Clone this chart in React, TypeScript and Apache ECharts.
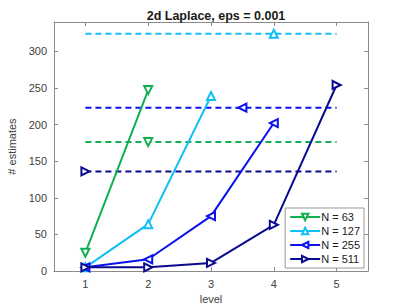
import React, { useEffect, useRef } from "react";
import * as echarts from "echarts";

const levels = [1, 2, 3, 4, 5];
const yTicks = [0, 50, 100, 150, 200, 250, 300];
const names = ["N = 63", "N = 127", "N = 255", "N = 511"];
const colors = ["#10B050", "#10BFF5", "#0A10F0", "#0A0A90"];
const rotations = [180, 0, 90, -90];
const estimates63 = [25, 247];
const estimates127 = [5, 64, 239];
const estimates255 = [5, 16, 75, 202];
const estimates511 = [5, 5, 11, 63, 254];
const refValues = [176, 324, 223, 136];
const refMarkerLevel = [2, 4, 3.5, 1];

const FONT = "Liberation Sans";

export default function App() {
  const ref = useRef<HTMLDivElement>(null);
  useEffect(() => {
    if (!ref.current) return;
    const chart = echarts.init(ref.current, null, { renderer: "svg" });
    const all = [estimates63, estimates127, estimates255, estimates511];
    const series: any[] = [];
    all.forEach((vals, i) => {
      const y = refValues[i];
      const m = refMarkerLevel[i];
      const pts = [1, m, 5].filter((v, k, a) => a.indexOf(v) === k).sort((a, b) => a - b);
      series.push({
        name: names[i] + " ref",
        type: "line",
        symbol: "emptyTriangle",
        symbolSize: 8,
        symbolRotate: rotations[i],
        data: pts.map((x) => ({
          value: [x, y],
          symbol: x === m ? "emptyTriangle" : "none",
        })),
        lineStyle: { color: colors[i], width: 2, type: [6, 4] },
        itemStyle: { color: colors[i], borderColor: colors[i], borderWidth: 1.5 },
        z: 2,
      });
    });
    all.forEach((vals, i) => {
      series.push({
        name: names[i],
        type: "line",
        symbol: "emptyTriangle",
        symbolSize: 8,
        symbolRotate: rotations[i],
        showAllSymbol: true,
        data: vals.map((v, k) => [levels[k], v]),
        lineStyle: { color: colors[i], width: 2 },
        itemStyle: { color: colors[i], borderColor: colors[i], borderWidth: 1.5 },
        z: 3,
      });
    });
    const axisCommon = {
      axisLine: { show: true, onZero: false, lineStyle: { color: "#8a8a8a", width: 1 } },
      axisTick: { show: true, inside: true, length: 4, lineStyle: { color: "#8a8a8a" } },
      splitLine: { show: false },
    };
    chart.setOption({
      animation: false,
      backgroundColor: "#ffffff",
      title: {
        text: "2d Laplace, eps = 0.001",
        left: 211,
        textAlign: "center",
        top: 4,
        textStyle: { fontFamily: FONT, fontSize: 12.5, fontWeight: "bold", color: "#1a1a1a" },
      },
      grid: { left: 54, right: 39, top: 22, bottom: 34, outerBoundsMode: "none", containLabel: false },
      legend: {
        data: names,
        orient: "vertical",
        right: 43,
        bottom: 37,
        itemWidth: 30,
        itemHeight: 8,
        itemGap: 2,
        padding: [3, 4, 3, 4],
        backgroundColor: "#fff",
        borderColor: "#999",
        borderWidth: 1,
        borderRadius: 0,
        textStyle: { fontFamily: FONT, fontSize: 11, lineHeight: 12, color: "#1a1a1a", padding: [0, 0, 0, -4] },
      },
      xAxis: [
        {
          type: "value",
          min: 0.5,
          max: 5.5,
          name: "level",
          nameLocation: "middle",
          nameGap: 20,
          nameTextStyle: { fontFamily: FONT, fontSize: 11, color: "#404040" },
          ...axisCommon,
          axisTick: { ...axisCommon.axisTick, customValues: levels },
          axisLabel: { customValues: levels, fontFamily: FONT, fontSize: 11, color: "#404040", margin: 7 },
        },
        {
          type: "value",
          position: "top",
          min: 0.5,
          max: 5.5,
          ...axisCommon,
          axisTick: { ...axisCommon.axisTick, customValues: levels },
          axisLabel: { show: false },
        },
      ],
      yAxis: [
        {
          type: "value",
          min: 0,
          max: 340,
          name: "# estimates",
          nameLocation: "middle",
          nameGap: 36,
          nameTextStyle: { fontFamily: FONT, fontSize: 11, color: "#404040" },
          ...axisCommon,
          axisTick: { ...axisCommon.axisTick, customValues: yTicks },
          axisLabel: { customValues: yTicks, fontFamily: FONT, fontSize: 11, color: "#404040", margin: 7 },
        },
        {
          type: "value",
          position: "right",
          min: 0,
          max: 340,
          ...axisCommon,
          axisTick: { ...axisCommon.axisTick, customValues: yTicks },
          axisLabel: { show: false },
        },
      ],
      series,
    });
    return () => chart.dispose();
  }, []);
  return <div ref={ref} style={{ width: 407, height: 305, position: "absolute", left: 0, top: 0 }} />;
}
